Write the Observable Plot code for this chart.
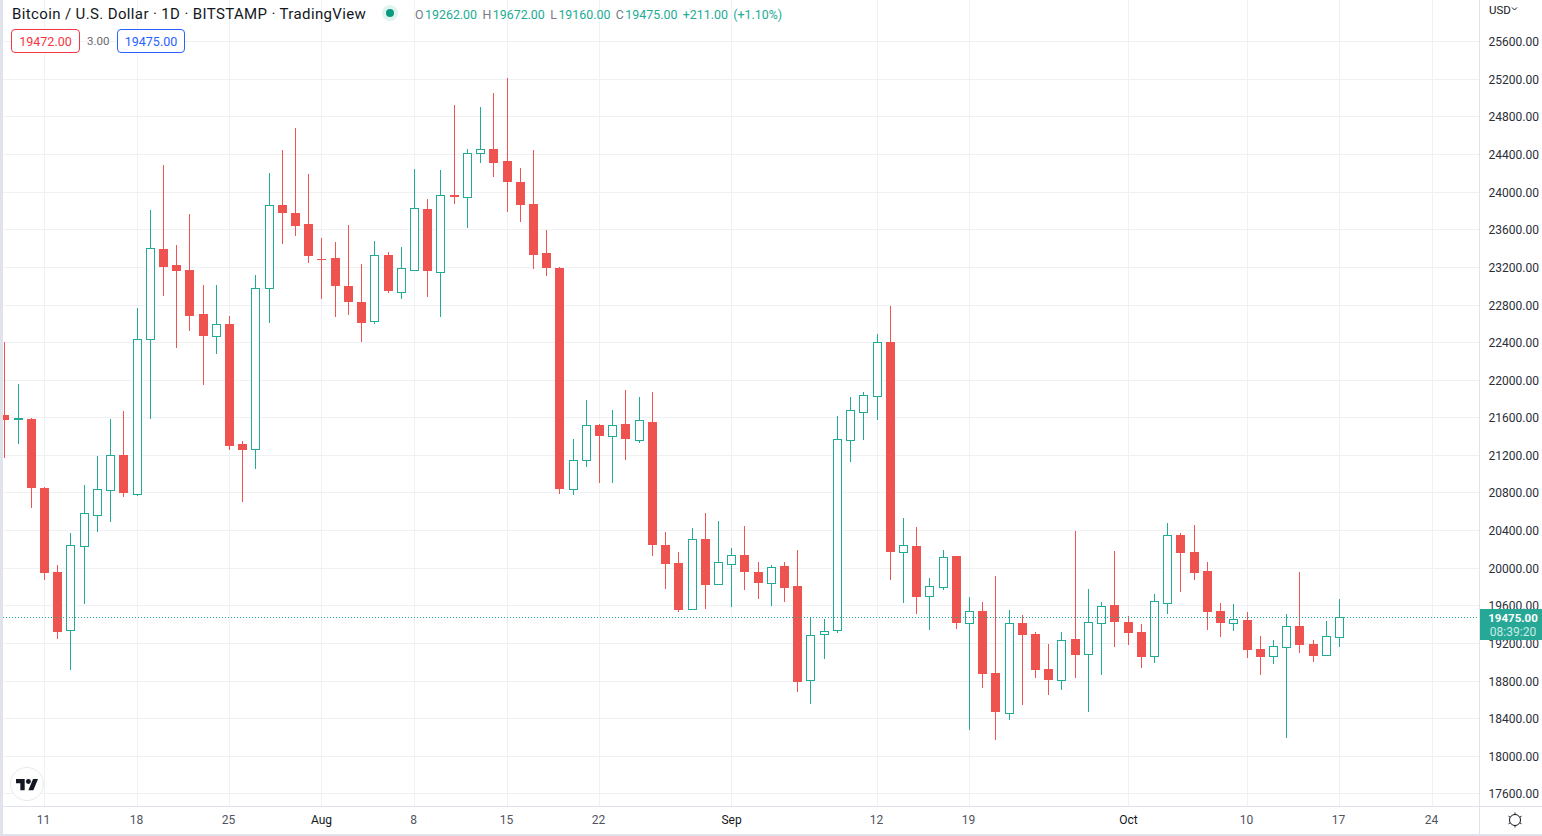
<!DOCTYPE html>
<html>
<head>
<meta charset="utf-8">
<script src="https://cdn.jsdelivr.net/npm/d3@7"></script>
<script src="https://cdn.jsdelivr.net/npm/@observablehq/plot@0.6"></script>
<style>
  html,body{margin:0;padding:0;background:#fff;overflow:hidden;}
  #wrap{position:relative;width:1542px;height:836px;font-family:Roboto,sans-serif;color:#131722;overflow:hidden;}
  #chart svg{display:block;}
  .ov{position:absolute;white-space:nowrap;}
  .line{position:absolute;background:#e0e3eb;}
  .box{position:absolute;box-sizing:border-box;border:1px solid;border-radius:4px;height:24px;line-height:23px;text-align:center;font-size:12.5px;background:#fff;}
  #ohlc b{font-weight:400;color:#787b86;margin-right:1.5px;}
  #ohlc span{margin-right:5.4px;}
</style>
</head>
<body>
<div id="wrap">
  <div id="chart"></div>
  <div class="line" style="left:0;top:0;width:3px;height:836px"></div>
  <div class="line" style="left:0;top:834px;width:1542px;height:2px"></div>
  <div class="line" style="left:0;top:806px;width:1542px;height:1px"></div>
  <div class="line" style="left:1479px;top:0;width:1px;height:834px"></div>
  <div class="ov" id="title" style="left:12px;top:5px;font-size:15px;line-height:18px;color:#131722;letter-spacing:.37px">Bitcoin / U.S. Dollar · 1D · BITSTAMP · TradingView</div>
  <svg class="ov" style="left:381px;top:4px" width="18" height="18"><circle cx="9" cy="9" r="8" fill="#dff3ef"/><circle cx="9" cy="9" r="4" fill="#089981"/></svg>
  <div class="ov" id="ohlc" style="left:415px;top:7px;font-size:12.4px;line-height:15px;color:#22ab94"></div>
  <div class="box" id="sell" style="left:11px;top:29px;width:69px;border-color:#f23645;color:#f23645"></div>
  <div class="ov" id="spread" style="left:87px;top:34px;font-size:11.5px;line-height:14px;color:#6a6a70"></div>
  <div class="box" id="buy" style="left:117px;top:29px;width:68px;border-color:#2962ff;color:#2962ff"></div>
  <div class="ov" style="left:1489px;top:3px;font-size:11.5px;line-height:14px;color:#131722">USD</div>
  <svg class="ov" style="left:1511px;top:6px" width="8" height="6"><path d="M1 1.5 L3.5 4 L6 1.5" fill="none" stroke="#131722"/></svg>
  <div class="ov" id="priceTag" style="left:1480px;width:58px;padding-left:4px;height:31px;background:#27a896;text-align:center;font-size:11.5px;line-height:14px;">
    <div style="color:#fff;font-weight:700;margin-top:2px">19475.00</div>
    <div style="color:#c8ebe6;font-size:12px">08:39:20</div>
  </div>
  <svg class="ov" style="left:10px;top:767px" width="34" height="34">
    <circle cx="17" cy="17" r="16.5" fill="#fff" stroke="#e8e9ee"/>
    <g transform="translate(6,9.5) scale(.62)" fill="#131722"><path d="M14 22H7V11H0V4h14v18zM28 22h-8l7.5-18h8L28 22z"/><circle cx="20" cy="8" r="4"/></g>
  </svg>
  <svg class="ov" style="left:1506px;top:811px" width="18" height="18">
    <circle cx="9" cy="9" r="5.5" fill="none" stroke="#131722"/>
    <path d="M9 1.5V3.5M9 14.5V16.5M2.5 5.2L4.2 6.2M13.8 11.8L15.5 12.8M2.5 12.8L4.2 11.8M13.8 6.2L15.5 5.2" stroke="#131722" fill="none"/>
  </svg>
</div>
<script>
const firstDay = "2022-07-08";
const opens = [21624,21586,21582,20850,19954,19337,20231,20560,20823,21199,20787,22436,23390,23220,23167,22699,22468,22592,21316,21266,22972,23858,23773,23656,23287,23294,22997,22826,22627,23326,22936,23170,23816,23149,23965,23947,24415,24454,24326,24103,23869,23348,23188,20840,21149,21518,21404,21528,21361,21550,20241,20050,19564,20305,19830,20042,20135,19954,19840,20018,19805,18808,19298,19334,21361,21659,21830,22401,20170,20231,19702,19798,20124,19415,19539,18880,18457,19412,19295,18922,18808,19241,19085,19415,19603,19422,19316,19064,19628,20348,20167,19965,19539,19415,19443,19135,19064,19159,19380,19188,19074,19262];
const highs = [22401,21954,21595,20858,20029,20369,20880,21188,21582,21667,22762,23805,24284,23433,23762,23007,23007,22677,21348,23114,24199,24443,24677,24188,23507,23465,23645,23231,23475,23358,23411,24241,23922,24231,24922,24454,24901,25050,25209,24252,24443,23592,23199,21369,21784,21528,21677,21890,21816,21869,20380,20167,20422,20582,20497,20209,20443,20060,20029,20060,20188,19475,19454,21614,21816,21869,22486,22784,20529,20433,19890,20188,20124,19688,19635,19912,19550,19497,19316,19188,19316,20390,19773,19635,20177,19486,19401,19720,20475,20369,20454,20060,19624,19614,19529,19273,19231,19507,19954,19231,19433,19672];
const lows = [21170,21319,20638,19869,19241,18912,19614,20380,20486,20755,20766,21582,22890,22340,22521,21943,22276,21255,20702,21050,22606,23443,23528,23244,22858,22667,22688,22401,22595,22922,22858,23167,22880,22667,23869,23614,24305,24156,23784,23677,23177,23103,20784,20773,21071,20901,20901,21146,21326,20124,19773,19529,19560,19560,19830,19582,19763,19667,19592,19635,18678,18550,19029,19305,21124,21358,21571,19869,19624,19507,19337,19763,19348,18273,18720,18167,18380,18539,18826,18646,18699,18826,18465,18858,19156,19177,18933,18986,19507,19741,19869,19337,19263,19326,19039,18858,18975,18188,19092,18997,19074,19160];
const closes = [21571,21592,20848,19943,19316,20241,20582,20834,21196,20794,22429,23398,23199,23156,22677,22465,22589,21294,21252,22972,23855,23773,23635,23319,23273,22997,22826,22603,23323,22943,23185,23823,23156,23961,23943,24408,24451,24305,24103,23858,23326,23188,20837,21142,21515,21401,21515,21369,21568,20241,20039,19550,20302,19816,20057,20132,19954,19837,20004,19784,18784,19281,19323,21366,21674,21834,22398,20167,20238,19688,19802,20110,19412,19536,18869,18465,19408,19284,18912,18805,19227,19071,19419,19589,19422,19305,19050,19642,20344,20156,19943,19529,19412,19451,19124,19050,19164,19376,19177,19060,19270,19475];

const priceTicks = d3.range(17600, 25601, 400);
const timeTicks = ["2022-07-11","2022-07-18","2022-07-25","2022-08-01","2022-08-08","2022-08-15","2022-08-22","2022-09-01","2022-09-12","2022-09-19","2022-10-01","2022-10-10","2022-10-17","2022-10-24"].map(d => new Date(d));
const timeLabels = ["11","18","25","Aug","8","15","22","Sep","12","19","Oct","10","17","24"];
const monthLabels = ["Aug","Sep","Oct"];
const lastPrice = 19475;
const change = 211, changePct = 1.10;
const sellPrice = 19472, buyPrice = 19475;

const start = new Date(firstDay);
const candles = opens.map((o, i) => ({
  date: d3.utcDay.offset(start, i),
  open: o, high: highs[i], low: lows[i], close: closes[i], up: closes[i] >= o
}));
const upC = "#22ab94", downC = "#ef5350";
const labelOf = d => timeLabels[timeTicks.findIndex(t => +t === +d)];

const plot = Plot.plot({
  width: 1542, height: 836,
  marginTop: 0, marginLeft: 3, marginRight: 63, marginBottom: 30,
  style: {fontFamily: "Roboto, sans-serif", fontSize: "12px", background: "#fff", color: "#131722"},
  x: {type: "utc", domain: [new Date("2022-07-11"), new Date("2022-10-17")], range: [44, 1339], round: true},
  y: {domain: [17600, 25600], range: [793.3, 41.3], round: true},
  marks: [
    Plot.gridX(timeTicks, {stroke: "#f0f1f4", strokeOpacity: 1}),
    Plot.gridY(priceTicks, {stroke: "#f0f1f4", strokeOpacity: 1}),
    Plot.ruleX(candles, {x: "date", y1: "low", y2: "high", stroke: d => d.up ? upC : downC, strokeWidth: 1}),
    Plot.rect(candles.filter(d => !d.up), {x1: "date", x2: "date", y1: "open", y2: "close", fill: downC, insetLeft: -4.5, insetRight: -4.5, dx: 0.5, shapeRendering: "crispEdges"}),
    Plot.rect(candles.filter(d => d.up), {x1: "date", x2: "date", y1: "open", y2: "close", fill: "#fff", stroke: upC, strokeWidth: 1, insetLeft: -4, insetRight: -4, dx: 0.5, dy: 0.5}),
    Plot.ruleY([lastPrice], {stroke: upC, strokeWidth: 1, strokeDasharray: "1 2"}),
    Plot.axisY(priceTicks, {anchor: "right", tickSize: 0, tickPadding: 9, dy: 0.3, tickFormat: d => d.toFixed(2), label: null, fill: "#2a2e39"}),
    Plot.axisX(timeTicks.filter(d => !monthLabels.includes(labelOf(d))), {anchor: "bottom", tickSize: 0, tickPadding: 8, dx: -1, dy: 1, tickFormat: labelOf, label: null, fill: "#50535e"}),
    Plot.axisX(timeTicks.filter(d => monthLabels.includes(labelOf(d))), {anchor: "bottom", tickSize: 0, tickPadding: 8, dx: 0, dy: 1, tickFormat: labelOf, label: null, fill: "#131722"})
  ]
});
document.getElementById("chart").appendChild(plot);

const q = candles[candles.length - 1];
const f2 = v => v.toFixed(2);
document.getElementById("ohlc").innerHTML =
  `<span><b>O</b>${f2(q.open)}</span><span><b>H</b>${f2(q.high)}</span><span><b>L</b>${f2(q.low)}</span><span><b>C</b>${f2(q.close)}</span><span>+${f2(change)}</span>(+${f2(changePct)}%)`;
document.getElementById("sell").textContent = f2(sellPrice);
document.getElementById("buy").textContent = f2(buyPrice);
document.getElementById("spread").textContent = f2(buyPrice - sellPrice);
document.getElementById("priceTag").style.top = Math.round(plot.scale("y").apply(lastPrice) - 8.5) + "px";
</script>
</body>
</html>
